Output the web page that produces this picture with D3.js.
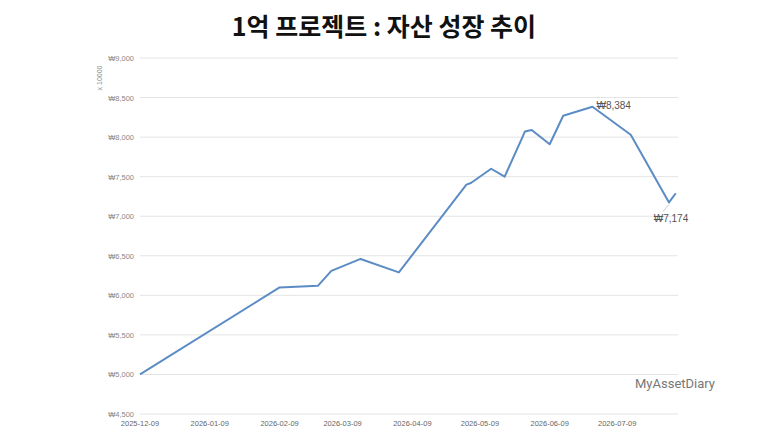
<!DOCTYPE html><html><head><meta charset="utf-8"><script src="https://cdn.jsdelivr.net/npm/d3@7"></script>
<style>body{margin:0;background:#fff}svg{display:block}</style></head><body><svg width="768" height="432"></svg><script>
const dates=["2025-12-09","2026-02-09","2026-02-26","2026-03-04","2026-03-17","2026-04-03","2026-05-03","2026-05-05","2026-05-14","2026-05-20","2026-05-29","2026-06-01","2026-06-09","2026-06-15","2026-06-28","2026-07-15","2026-08-01","2026-08-04"];
const values=[5000,6100,6120,6310,6460,6290,7400,7420,7600,7500,8070,8090,7910,8270,8384,8030,7174,7290];
const yTicks=[4500,5000,5500,6000,6500,7000,7500,8000,8500,9000];
const xTicks=["2025-12-09","2026-01-09","2026-02-09","2026-03-09","2026-04-09","2026-05-09","2026-06-09","2026-07-09"];
const p=d3.utcParse("%Y-%m-%d");
const svg=d3.select("svg");
const x=d3.scaleUtc().domain([p("2025-12-09"),p("2026-08-05")]).range([140,678]);
const y=d3.scaleLinear().domain([4500,9000]).range([414,58]);
svg.append("text").attr("x",384).attr("y",36).attr("text-anchor","middle").attr("font-family","Noto Sans CJK KR").attr("font-weight","bold").attr("font-size",25).attr("fill","#111").text("1억 프로젝트 : 자산 성장 추이");
const g=svg.append("g");
yTicks.forEach(t=>{g.append("line").attr("x1",140).attr("x2",678).attr("y1",y(t)).attr("y2",y(t)).attr("stroke","#e4e4e4");
g.append("text").attr("x",134).attr("y",y(t)+3).attr("text-anchor","end").attr("font-family","Liberation Sans").attr("font-size",7.5).attr("fill","#888").text("₩"+d3.format(",")(t));});
xTicks.forEach(t=>g.append("text").attr("x",x(p(t))).attr("y",426).attr("text-anchor","middle").attr("font-family","Liberation Sans").attr("font-size",7.5).attr("fill","#666").text(t));
svg.append("text").attr("transform","translate(102,78) rotate(-90)").attr("text-anchor","middle").attr("font-family","Liberation Sans").attr("font-size",7).attr("fill","#888").text("x 10000");
const line=d3.line().x((d,i)=>x(p(dates[i]))).y(d=>y(d));
svg.append("path").datum(values).attr("d",line).attr("fill","none").attr("stroke","#5b8cc4").attr("stroke-width",2).attr("stroke-linejoin","round");
const im=values.indexOf(d3.max(values)), imn=values.indexOf(7174);
svg.append("text").attr("x",x(p(dates[im]))+4).attr("y",y(values[im])+2).attr("font-family","Liberation Sans").attr("font-size",10).attr("fill","#555").text("₩8,384");
svg.append("line").attr("x1",x(p(dates[imn]))).attr("y1",y(7174)+2).attr("x2",x(p(dates[imn]))-6).attr("y2",y(7174)+9).attr("stroke","#ccc");
svg.append("text").attr("x",x(p(dates[imn]))+2).attr("y",y(7174)+20).attr("text-anchor","middle").attr("font-family","Liberation Sans").attr("font-size",10).attr("fill","#555").text("₩7,174");
svg.append("text").attr("x",635).attr("y",388).attr("font-family","Roboto").attr("font-size",13).attr("fill","#777").text("MyAssetDiary");
</script></body></html>
